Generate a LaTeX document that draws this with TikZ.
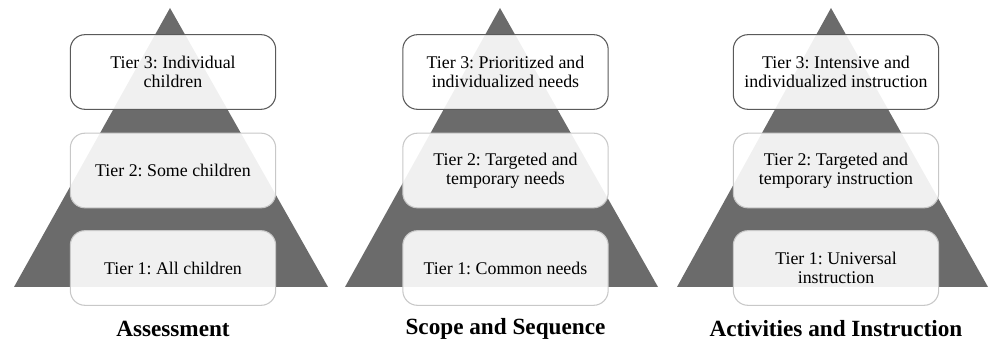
\documentclass[tikz,border=0pt]{standalone}
\usepackage{fontspec}
\setmainfont{Liberation Serif}
\usepackage{tikz}
\usetikzlibrary{positioning}
\frenchspacing
\definecolor{pyrgray}{HTML}{6B6B6B}
\definecolor{topedge}{HTML}{5A5A5A}
\definecolor{lowedge}{HTML}{C8C8C8}
\tikzstyle{tier} = [draw=lowedge, thick, rounded corners=11pt, fill=white,
  fill opacity=0.9, text opacity=1, minimum width=154pt, minimum height=56pt,
  align=center, font=\fontsize{13.4}{14.3}\selectfont]
\tikzstyle{toptier} = [tier, draw=topedge]
\tikzstyle{caption} = [font=\fontsize{17.4}{19}\selectfont\bfseries]

\begin{document}
\begin{tikzpicture}[x=0.75pt, y=-0.75pt]
\useasboundingbox (0,0) rectangle (990,345);
% pyramids
\fill[pyrgray] (170,8) -- (328,287) -- (14,287) -- cycle;
\fill[pyrgray] (500,8) -- (658,287) -- (345,287) -- cycle;
\fill[pyrgray] (831,8) -- (988,287) -- (677,287) -- cycle;
% assessment
\node[toptier](a3) at (173,72) {Tier 3: Individual\\children};
\node[tier](a2) at (173,170.5) {Tier 2: Some children};
\node[tier](a1) at (173,268) {Tier 1: All children};
\node[caption](a) at (173,329) {Assessment};
% scope and sequence
\node[toptier](s3) at (505.5,72) {Tier 3: Prioritized and\\individualized needs};
\node[tier](s2) at (505.5,170.5) {Tier 2: Targeted and\\temporary needs};
\node[tier](s1) at (505.5,268) {Tier 1: Common needs};
\node[caption](s) at (505.5,329) {Scope and Sequence};
% activities and instruction
\node[toptier](i3) at (836,72) {Tier 3: Intensive and\\individualized instruction};
\node[tier](i2) at (836,170.5) {Tier 2: Targeted and\\temporary instruction};
\node[tier](i1) at (836,268) {Tier 1: Universal\\instruction};
\node[caption](i) at (836,329) {Activities and Instruction};
\end{tikzpicture}
\end{document}
